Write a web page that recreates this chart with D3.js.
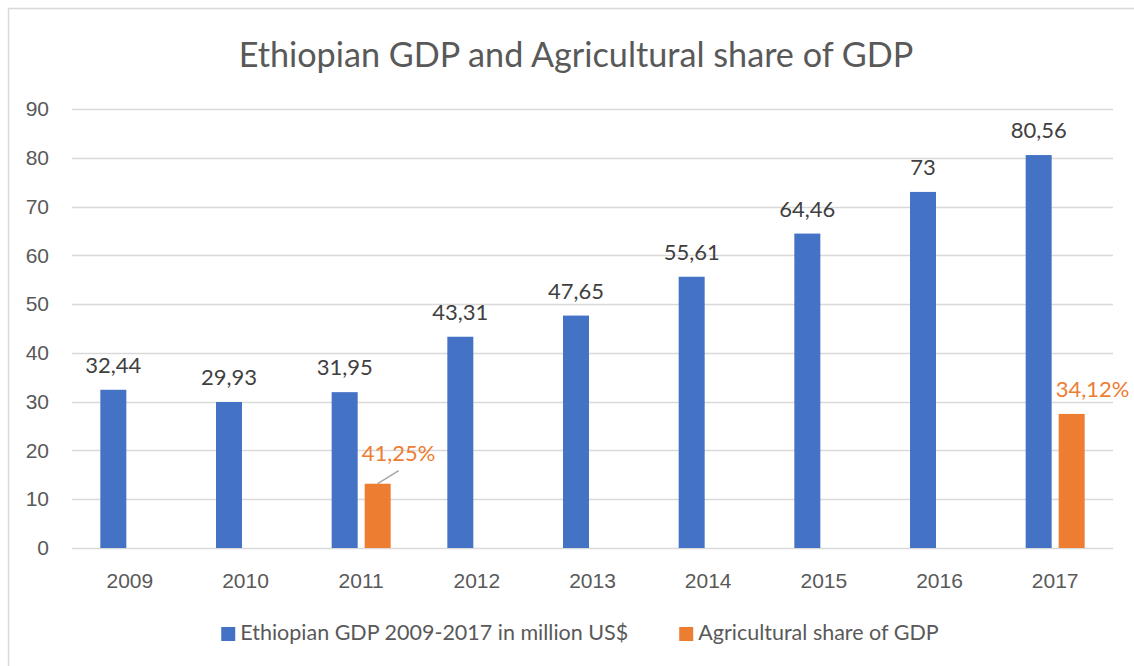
<!DOCTYPE html>
<html>
<head>
<meta charset="utf-8">
<script src="https://cdn.jsdelivr.net/npm/d3@7"></script>
<style>
  body { margin: 0; background: #fff; }
  svg { display: block; font-family: Lato, "Open Sans", sans-serif; }
</style>
</head>
<body>
<div id="chart"></div>
<script>
const years = ["2009", "2010", "2011", "2012", "2013", "2014", "2015", "2016", "2017"];
const gdp = [32.44, 29.93, 31.95, 43.31, 47.65, 55.61, 64.46, 73, 80.56];
// agricultural share drawn as share of GDP value (41,25% of 31,95 and 34,12% of 80,56)
const agriValue = [null, null, 13.18, null, null, null, null, null, 27.49];
const agriLabel = [null, null, "41,25%", null, null, null, null, null, "34,12%"];
const yTicks = [0, 10, 20, 30, 40, 50, 60, 70, 80, 90];
const seriesNames = ["Ethiopian GDP 2009-2017 in million US$", "Agricultural share of GDP"];
const colors = ["#4472C4", "#ED7D31"];

const W = 1134, H = 666;
const plot = { left: 72, right: 1113, top: 109, bottom: 548 };

const svg = d3.select("#chart").append("svg")
    .attr("width", W)
    .attr("height", H);

// chart frame
svg.append("rect")
    .attr("x", 8.5).attr("y", 8.5)
    .attr("width", W + 20).attr("height", H + 20)
    .attr("fill", "none")
    .attr("stroke", "#d9d9d9")
    .attr("stroke-width", 1.5);

svg.append("text")
    .attr("x", 576)
    .attr("y", 67)
    .attr("text-anchor", "middle")
    .attr("font-size", "34.2px")
    .attr("fill", "#595959")
    .text("Ethiopian GDP and Agricultural share of GDP");

const x = d3.scaleBand().domain(years).range([plot.left, plot.right]);
const xs = d3.scaleBand().domain([0, 1])
    .range([(x.bandwidth() - 59) / 2, (x.bandwidth() + 59) / 2])
    .paddingInner(0.2121);
const y = d3.scaleLinear().domain([0, 90]).range([plot.bottom, plot.top]);

// gridlines
svg.append("g")
    .selectAll("line")
    .data(yTicks)
    .join("line")
    .attr("x1", plot.left).attr("x2", plot.right)
    .attr("y1", d => Math.round(y(d)) + 0.5)
    .attr("y2", d => Math.round(y(d)) + 0.5)
    .attr("stroke", "#d9d9d9")
    .attr("stroke-width", 1.5);

const yAxis = svg.append("g")
    .attr("transform", `translate(${plot.left},0)`)
    .call(d3.axisLeft(y).tickValues(yTicks).tickSize(0).tickPadding(23));
yAxis.select(".domain").remove();
yAxis.selectAll("text").attr("font-size", "21px").attr("fill", "#595959").attr("font-family", null);

const xAxis = svg.append("g")
    .attr("transform", `translate(0,${plot.bottom})`)
    .call(d3.axisBottom(x).tickSize(0).tickPadding(25));
xAxis.select(".domain").remove();
xAxis.selectAll("text").attr("font-size", "21px").attr("fill", "#595959").attr("font-family", null);

// GDP bars
svg.append("g")
    .selectAll("rect")
    .data(years.map((yr, i) => ({ yr, v: gdp[i] })))
    .join("rect")
    .attr("x", d => x(d.yr) + xs(0))
    .attr("y", d => y(d.v))
    .attr("width", xs.bandwidth())
    .attr("height", d => y(0) - y(d.v))
    .attr("fill", colors[0]);

svg.append("g")
    .selectAll("text")
    .data(years.map((yr, i) => ({ yr, v: gdp[i] })))
    .join("text")
    .attr("x", d => x(d.yr) + xs(0) + xs.bandwidth() / 2)
    .attr("y", d => y(d.v) - 17)
    .attr("text-anchor", "middle")
    .attr("font-size", "22px")
    .attr("fill", "#404040")
    .text(d => String(d.v).replace(".", ","));

// agricultural share bars
const agri = years.map((yr, i) => ({ yr, v: agriValue[i], label: agriLabel[i] })).filter(d => d.v != null);

svg.append("g")
    .selectAll("rect")
    .data(agri)
    .join("rect")
    .attr("x", d => x(d.yr) + xs(1))
    .attr("y", d => y(d.v))
    .attr("width", xs.bandwidth())
    .attr("height", d => y(0) - y(d.v))
    .attr("fill", colors[1]);

// labels were moved off-centre in the original
const nudge = { "2011": [21, -6], "2017": [21, 0] };
svg.append("g")
    .selectAll("text")
    .data(agri)
    .join("text")
    .attr("x", d => x(d.yr) + xs(1) + xs.bandwidth() / 2 + nudge[d.yr][0])
    .attr("y", d => y(d.v) - 17 + nudge[d.yr][1])
    .attr("text-anchor", "middle")
    .attr("font-size", "22px")
    .attr("fill", colors[1])
    .text(d => d.label);

// leader line for the moved 2011 label
const d11 = agri.find(d => d.yr === "2011");
svg.append("line")
    .attr("x1", x(d11.yr) + xs(1) + xs.bandwidth() / 2)
    .attr("y1", y(d11.v))
    .attr("x2", x(d11.yr) + xs(1) + xs.bandwidth() / 2 + 21)
    .attr("y2", y(d11.v) - 13)
    .attr("stroke", "#a6a6a6")
    .attr("stroke-width", 1.5);

// legend
const legend = svg.append("g");
const items = legend.selectAll("g")
    .data(seriesNames)
    .join("g");
items.append("rect")
    .attr("width", 14).attr("height", 14)
    .attr("y", -13)
    .attr("fill", (d, i) => colors[i]);
items.append("text")
    .attr("x", 19)
    .attr("font-size", "21.5px")
    .attr("fill", "#595959")
    .text(d => d);

let lx = 0;
items.each(function () {
    d3.select(this).attr("transform", `translate(${lx},0)`);
    lx += this.getBBox().width + 51;
});
const legendW = lx - 51;
legend.attr("transform", `translate(${580 - legendW / 2},640)`);
</script>
</body>
</html>
